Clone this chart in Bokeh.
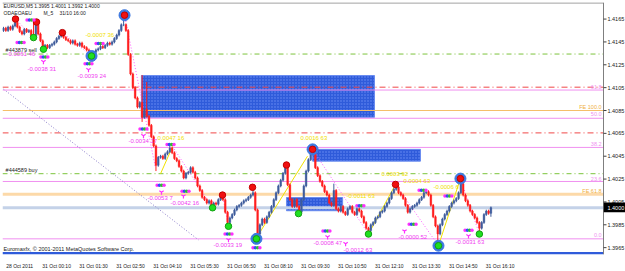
from bokeh.plotting import figure
from bokeh.models import Range1d, FixedTicker, ColumnDataSource
from bokeh.embed import file_html
from bokeh.resources import INLINE
from bokeh.core.properties import value

FONT = "Liberation Sans"

# ---------------- data ----------------
closes = [
    1.4157, 1.4155, 1.4158, 1.4156, 1.4159, 1.4162, 1.4158, 1.4154, 1.4152, 1.4156,
    1.4154, 1.4155, 1.4150, 1.4149, 1.4160, 1.4152, 1.4146, 1.4141, 1.4142, 1.4140,
    1.4142, 1.4143, 1.4145, 1.4148, 1.4150, 1.4153, 1.4149, 1.4147, 1.4146, 1.4144,
    1.4146, 1.4143, 1.4142, 1.4144, 1.4141, 1.4140, 1.4138, 1.4136, 1.4134, 1.4136,
    1.4138, 1.4139, 1.4141, 1.4140, 1.4142, 1.4144, 1.4143, 1.4145, 1.4148, 1.4151,
    1.4155, 1.4160, 1.4160, 1.4155, 1.4134, 1.4117, 1.4105, 1.4096, 1.4088, 1.4092,
    1.4079, 1.4086, 1.4080, 1.4072, 1.4062, 1.4054, 1.4037, 1.4044, 1.4045, 1.4043,
    1.4047, 1.4049, 1.4052, 1.4048, 1.4043, 1.4041, 1.4036, 1.4032, 1.4026, 1.4030,
    1.4031, 1.4035, 1.4031, 1.4026, 1.4019, 1.4015, 1.4009, 1.4007, 1.4004, 1.4006,
    1.4001, 1.4004, 1.4003, 1.4007, 1.4009, 1.4007, 1.3996, 1.3987, 1.3991, 1.3994,
    1.3998, 1.4001, 1.4002, 1.4004, 1.4006, 1.4007, 1.4009, 1.4011, 1.4013, 1.3998,
    1.3977, 1.3985, 1.3990, 1.3987, 1.3992, 1.3996, 1.4001, 1.4007, 1.4013, 1.4019,
    1.4024, 1.4030, 1.4035, 1.4020, 1.4007, 1.4001, 1.4007, 1.4001, 1.3996, 1.4007,
    1.4019, 1.4032, 1.4042, 1.4047, 1.4048, 1.4035, 1.4028, 1.4023, 1.4019, 1.4014,
    1.4011, 1.4004, 1.4002, 1.4015, 1.3999, 1.3997, 1.4001, 1.3996, 1.3994, 1.3999,
    1.4001, 1.3996, 1.3994, 1.3999, 1.3997, 1.3992, 1.3987, 1.3982, 1.3980, 1.3985,
    1.3987, 1.3991, 1.3992, 1.3996, 1.3997, 1.4001, 1.4004, 1.4008, 1.4013, 1.4016,
    1.4018, 1.4013, 1.4011, 1.4008, 1.4002, 1.3996, 1.3999, 1.4001, 1.4002, 1.4004,
    1.4007, 1.4009, 1.4013, 1.4014, 1.4011, 1.4002, 1.3992, 1.3984, 1.3977, 1.3985,
    1.3990, 1.3994, 1.3997, 1.4001, 1.4004, 1.4006, 1.4008, 1.4013, 1.4021, 1.4011,
    1.4006, 1.4002, 1.3997, 1.3994, 1.3991, 1.3987, 1.3982, 1.3987, 1.3994, 1.3997,
    1.3995, 1.4000,
]
first_open = 1.4155
high_overrides = {5: 1.4165, 13: 1.4162, 14: 1.4163, 25: 1.4156, 52: 1.4168, 60: 1.4116,
                  62: 1.4110, 72: 1.4054, 95: 1.4011, 108: 1.4018, 122: 1.4038, 134: 1.4052,
                  143: 1.4021, 170: 1.4021, 198: 1.4025, 211: 1.4001}
low_overrides = {13: 1.4148, 17: 1.4138, 38: 1.4132, 60: 1.4075, 66: 1.4032, 90: 1.3999,
                 97: 1.3984, 110: 1.3970, 128: 1.3994, 158: 1.3977, 188: 1.3968,
                 206: 1.3979, 211: 1.3992}

time_tick_bars = [0, 16, 32, 48, 64, 80, 96, 112, 128, 144, 160, 176, 192, 208]
time_tick_labels = ["28 Oct 2011", "31 Oct 00:10", "31 Oct 01:30", "31 Oct 02:50",
                    "31 Oct 04:10", "31 Oct 05:30", "31 Oct 06:50", "31 Oct 08:10",
                    "31 Oct 09:30", "31 Oct 10:50", "31 Oct 12:10", "31 Oct 13:30",
                    "31 Oct 14:50", "31 Oct 16:10"]
price_ticks = [1.3965, 1.3985, 1.4005, 1.4025, 1.4045, 1.4065, 1.4085, 1.4105,
               1.4125, 1.4145, 1.4165]
current_price = 1.4000

# horizontal levels
level_prices = [1.41344, 1.41054, 1.41029, 1.40850, 1.40782, 1.40654, 1.40527,
                1.40297, 1.40229, 1.40118, 1.40000, 1.39727]
level_colors = ["#7CC43C", "#F04848", "#F090F0", "#F5BE6A", "#F090F0", "#F04848",
                "#F090F0", "#7CC43C", "#F090F0", "#FCD9A8", "#C4D2E8", "#F090F0"]
level_widths = [1, 1, 1, 1, 1, 1, 1, 1, 1, 3, 3, 1]
level_dashes = ["5 3 1 3", "6 3 1 3", "solid", "solid", "solid", "6 3 1 3", "solid",
                "5 3 1 3", "solid", "solid", "solid", "solid"]

fibo_texts = ["61.8", "FE 100.0", "50.0", "38.2", "23.6", "FE 61.8", "0.0"]
fibo_prices = [1.41054, 1.40884, 1.40816, 1.40561, 1.40254, 1.40144, 1.39761]
fibo_colors = ["#F090F0", "#F0B040", "#F090F0", "#F090F0", "#F090F0", "#F0B040", "#F090F0"]

# zones (bar index / price)
zone_left = [59.7, 133.8, 122.5]
zone_right = [160.6, 180.5, 146.8]
zone_top = [1.41156, 1.40510, 1.40088]
zone_bottom = [1.40790, 1.40407, 1.39973]

# trend line
trend_x = [0.0, 84.4]
trend_y = [1.41037, 1.39718]

# zigzag segments
pink_x0 = [5.2, 14.3, 25.5, 52.4, 73.2, 94.8, 133.8, 169.7, 197.8]
pink_y0 = [1.41650, 1.41624, 1.41531, 1.41684, 1.40535, 1.40110, 1.40510, 1.40203, 1.40254]
pink_x1 = [13.0, 17.3, 38.1, 65.8, 90.5, 97.4, 158.0, 188.3, 206.0]
pink_y1 = [1.41488, 1.41386, 1.41327, 1.40348, 1.39999, 1.39837, 1.39769, 1.39667, 1.39769]
yel_x0 = [68.0, 110.0, 158.0, 188.3]
yel_y0 = [1.40297, 1.39752, 1.39769, 1.39667]
yel_x1 = [73.2, 131.6, 169.7, 197.8]
yel_y1 = [1.40535, 1.40450, 1.40203, 1.40254]

# swing markers
red_x = [5.2, 14.3, 25.5, 52.4, 94.8, 107.8, 122.5, 133.8, 169.7, 197.8]
red_y = [1.41650, 1.41624, 1.41531, 1.41684, 1.40110, 1.40178, 1.40373, 1.40510, 1.40203, 1.40254]
red_ring = [False, False, False, True, False, False, False, True, False, True]
green_x = [13.0, 17.3, 38.1, 90.5, 97.4, 109.5, 127.7, 158.0, 188.3, 206.0]
green_y = [1.41488, 1.41386, 1.41327, 1.39999, 1.39837, 1.39727, 1.39948, 1.39769, 1.39667, 1.39769]
green_ring = [False, False, True, False, False, True, False, False, True, False]

cluster_x = [7.4, 17.7, 41.6, 11.7, 36.8, 60.6, 72.3, 68.0, 78.8, 97.4, 109.5,
             139.8, 154.5, 177.1, 192.6, 201.3, 181.4]
cluster_y = [1.41446, 1.41318, 1.41437, 1.41641, 1.41259, 1.40688, 1.40552, 1.40195,
             1.40144, 1.39769, 1.39650, 1.39795, 1.40016, 1.39854, 1.40101, 1.39803, 1.40152]
cluster_colors = ["#FF30FF", "#3050F0", "#30C030", "#FF30FF"]

arrow_x = [17.3, 36.8, 60.6, 68.4, 77.9, 97.4, 140.3, 148.1, 173.6, 201.3]
arrow_y = [1.41276, 1.41207, 1.40629, 1.40135, 1.40101, 1.39718, 1.39744, 1.39684,
           1.39795, 1.39752]

pink_texts = ["-0.0061 46", "-0.0038 31", "-0.0039 24", "-0.0034 17", "-0.0053 7",
              "-0.0042 16", "-0.0033 19", "-0.0008 47", "-0.0012 63", "-0.0000 52",
              "-0.0031 63"]
pink_tx = [1.3, 10.4, 32.0, 54.1, 62.3, 72.3, 90.9, 134.2, 147.2, 171.0, 195.7]
pink_ty = [1.41344, 1.41216, 1.41148, 1.40586, 1.40084, 1.40041, 1.39676, 1.39693,
           1.39633, 1.39744, 1.39701]
yellow_texts = ["-0.0007 36", "0.0047 16", "0.0016 63", "-0.0011 63", "0.0003 92",
                "0.0004 63", "-0.0006 6"]
yellow_tx = [35.5, 66.7, 128.6, 148.5, 163.6, 173.2, 186.1]
yellow_ty = [1.41514, 1.40612, 1.40612, 1.40101, 1.40297, 1.40237, 1.40178]
black_texts = ["#443879 sell", "#444589 buy"]
black_tx = [0.9, 0.9]
black_ty = [1.41378, 1.40331]

header1 = "EURUSD,M5  1.3995 1.4001 1.3992 1.4000"
header2 = ["ODAEOAEU", "M_5", "31/10 16:00"]
header2_x = [0.0, 17.3, 24.2]
copyright_text = "Euromaxfx, \u00a9 2001-2011 MetaQuotes Software Corp."

# ---------------- geometry (bar index units) ----------------
X_LEFT = -0.43        # left edge of frame
X_EDGE = 259.74       # right border of the price area
X_RIGHT = 269.26      # right canvas edge
Y_BOTTOM = 1.39590
Y_TOP = 1.41795

# ---------------- build ----------------
n = len(closes)
opens = [first_open] + closes[:-1]
WICK = 0.00012
highs = [high_overrides.get(i, max(opens[i], closes[i]) + WICK) for i in range(n)]
lows = [low_overrides.get(i, min(opens[i], closes[i]) - WICK) for i in range(n)]
BULL, BEAR = "#3F5C9C", "#FF1E1E"
ccol = [BULL if closes[i] >= opens[i] else BEAR for i in range(n)]
src = ColumnDataSource(dict(x=list(range(n)), h=highs, l=lows,
                            top=[max(a, b) for a, b in zip(opens, closes)],
                            bot=[min(a, b) for a, b in zip(opens, closes)], col=ccol))

p = figure(width=625, height=271, x_range=Range1d(X_LEFT, X_RIGHT),
           y_range=Range1d(Y_BOTTOM, Y_TOP), y_axis_location=None,
           output_backend="svg", toolbar_location=None,
           min_border_left=2, min_border_right=0, min_border_top=2, min_border_bottom=10)
p.xgrid.visible = False
p.ygrid.visible = False
p.outline_line_color = None
p.background_fill_color = "white"
p.border_fill_color = "white"

xa = p.xaxis[0]
OFF = 7
xa.ticker = FixedTicker(ticks=[t + OFF for t in time_tick_bars])
xa.major_label_overrides = {t + OFF: lab for t, lab in zip(time_tick_bars, time_tick_labels)}
xa.major_label_text_font = FONT
xa.major_label_text_font_size = "5px"
xa.major_label_text_color = "#202020"
xa.major_tick_line_color = None
xa.minor_tick_line_color = None
xa.axis_line_color = None
xa.major_label_standoff = 2

# zones
p.quad(left=zone_left, right=zone_right, top=zone_top, bottom=zone_bottom,
       fill_color="#2F5BDA", line_color="#6A8CF0", line_width=1,
       hatch_pattern="dot", hatch_color="#6C8EF5", hatch_scale=3, hatch_weight=1)

# bottom strip
p.quad(left=[X_LEFT], right=[X_EDGE], bottom=[Y_BOTTOM], top=[1.39612],
       fill_color="#2F5BDA", line_color=None)

# levels: solid ones together, dashed ones one by one
solid = [k for k, d in enumerate(level_dashes) if d == "solid"]
p.segment(x0=[X_LEFT] * len(solid), x1=[X_EDGE] * len(solid),
          y0=[level_prices[k] for k in solid], y1=[level_prices[k] for k in solid],
          line_color=[level_colors[k] for k in solid],
          line_width=[level_widths[k] for k in solid])
for pr, colr, w, d in zip(level_prices, level_colors, level_widths, level_dashes):
    if d != "solid":
        p.segment(x0=[X_LEFT], x1=[X_EDGE], y0=[pr], y1=[pr], line_color=colr,
                  line_width=w, line_dash=d)

# trend line
p.line(trend_x, trend_y, line_color="#8A7CC8", line_dash="1 2", line_width=1)

# zigzags
p.segment(x0=pink_x0, y0=pink_y0, x1=pink_x1, y1=pink_y1, line_color="#FF60FF",
          line_dash="1 2", line_width=1)
p.segment(x0=yel_x0, y0=yel_y0, x1=yel_x1, y1=yel_y1, line_color="#F2E200", line_width=1)

# candles
p.segment(x0="x", y0="h", x1="x", y1="l", source=src, line_color="col", line_width=1)
p.vbar(x="x", width=0.7, top="top", bottom="bot", source=src,
       fill_color="col", line_color="col", line_width=0.5)

# markers
rrx = [x for x, r in zip(red_x, red_ring) if r]
rry = [y for y, r in zip(red_y, red_ring) if r]
grx = [x for x, r in zip(green_x, green_ring) if r]
gry = [y for y, r in zip(green_y, green_ring) if r]
p.scatter(rrx + grx, rry + gry, size=11, fill_color="#3C78E0", line_color="#3C78E0")
p.scatter(red_x, red_y, size=6.5, fill_color="#F01010", line_color="#C00000")
p.scatter(green_x, green_y, size=6.5, fill_color="#20E020", line_color="#10A010")

for k, colr in enumerate(cluster_colors):
    dx = (k - 1.5) * 1.0
    p.scatter([x + dx for x in cluster_x], cluster_y, size=3.5,
              fill_color=colr, line_color=None)
p.scatter(arrow_x, arrow_y, marker="y", size=5, line_color="#FF30FF", line_width=1.2)

# texts
def add_texts(xs, ys, texts, color, size="6px", align="left"):
    p.text(x=xs, y=ys, text=texts, text_color=color, text_font=value(FONT),
           text_font_size=value(size), text_baseline="middle", text_align=align)

add_texts(pink_tx, pink_ty, pink_texts, "#F040F0")
add_texts(yellow_tx, yellow_ty, yellow_texts, "#F0E000")
add_texts(black_tx, black_ty, black_texts, "#202020", size="5.5px")
add_texts([258.9] * len(fibo_texts), fibo_prices, fibo_texts, fibo_colors, size="5.5px",
          align="right")
add_texts([0.0], [1.41761], [header1], "#202020", size="5px")
add_texts(header2_x, [1.41701] * 3, header2, "#202020", size="5px")
add_texts([0.0], [1.39641], [copyright_text], "#202020", size="5.5px")

# frame borders of the price area
p.segment(x0=[X_LEFT], x1=[X_EDGE], y0=[1.41791], y1=[1.41791], line_color="#7F7F7F")
p.segment(x0=[X_EDGE], x1=[X_EDGE], y0=[Y_BOTTOM], y1=[Y_TOP], line_color="#7F7F7F")

# price scale (right)
TICK_END = X_EDGE + 1.3
p.segment(x0=[X_EDGE] * len(price_ticks), x1=[TICK_END] * len(price_ticks),
          y0=price_ticks, y1=price_ticks, line_color="#404040")
add_texts([TICK_END + 0.4] * len(price_ticks), price_ticks,
          ["%.4f" % t for t in price_ticks], "#202020", size="5.5px")

# current price tag
p.quad(left=[X_EDGE + 0.1], right=[X_RIGHT], top=[current_price + 0.00045],
       bottom=[current_price - 0.00040], fill_color="black", line_color=None)
add_texts([TICK_END + 0.4], [current_price], ["%.4f" % current_price], "white", size="5.5px")

open("out.html", "w").write(file_html(p, INLINE))
